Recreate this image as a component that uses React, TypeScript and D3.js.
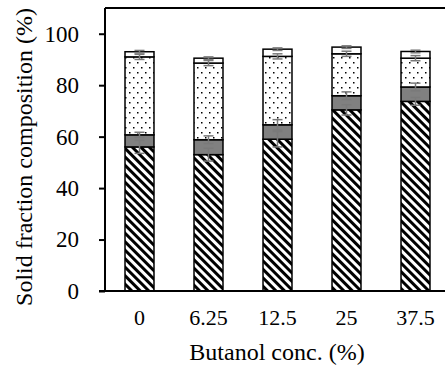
import React, { useEffect, useRef } from "react";
import * as d3 from "d3";

const categories = ["0", "6.25", "12.5", "25", "37.5"];
// stacked segments, bottom to top
const hatched = [56, 53, 59, 70.4, 73.7];
const grey = [4.7, 5.8, 5.6, 5.5, 5.6];
const dotted = [30.3, 29.8, 26.6, 16.3, 11.2];
const white = [2, 1.9, 2.8, 2.6, 2.6];
// error (+/-) at the top of each segment
const hatchedErr = [2.5, 2.5, 3, 2, 1.5];
const greyErr = [1, 1.5, 2, 1.5, 1.5];
const dottedErr = [1, 1, 1, 1, 1];
const whiteErr = [0.5, 0.5, 0.5, 0.5, 0.5];
const yTicks = [0, 20, 40, 60, 80, 100];

const App = () => {
  const svgRef = useRef<SVGSVGElement>(null);

  useEffect(() => {
    const width = 445;
    const height = 366;
    const margin = { top: 8, left: 105, bottom: 75 };
    const font = "'Liberation Serif', 'Times New Roman', serif";

    const svg = d3.select(svgRef.current).attr("width", width).attr("height", height);
    svg.selectAll("*").remove();

    const x = d3
      .scaleBand()
      .domain(categories)
      .range([margin.left, 450])
      .paddingInner(0.58)
      .paddingOuter(0.29);
    const y = d3.scaleLinear().domain([0, 110]).range([height - margin.bottom, margin.top]);

    const defs = svg.append("defs");
    const hatch = defs
      .append("pattern")
      .attr("id", "hatch")
      .attr("patternUnits", "userSpaceOnUse")
      .attr("width", 6)
      .attr("height", 6)
      .attr("patternTransform", "rotate(-45)");
    hatch.append("rect").attr("width", 6).attr("height", 6).attr("fill", "#fff");
    hatch.append("rect").attr("width", 3).attr("height", 6).attr("fill", "#000");

    const dots = defs
      .append("pattern")
      .attr("id", "dots")
      .attr("patternUnits", "userSpaceOnUse")
      .attr("width", 8)
      .attr("height", 10);
    dots.append("rect").attr("width", 8).attr("height", 10).attr("fill", "#fff");
    dots.append("rect").attr("x", 1).attr("y", 2).attr("width", 1.5).attr("height", 1.5).attr("fill", "#000");
    dots.append("rect").attr("x", 5).attr("y", 7).attr("width", 1.5).attr("height", 1.5).attr("fill", "#000");

    const series = [
      { values: hatched, err: hatchedErr, fill: "url(#hatch)" },
      { values: grey, err: greyErr, fill: "#808080" },
      { values: dotted, err: dottedErr, fill: "url(#dots)" },
      { values: white, err: whiteErr, fill: "#fff" },
    ];

    const rows = categories.map((c, i) => {
      const r: Record<string, number | string> = { cat: c };
      series.forEach((s, k) => (r["s" + k] = s.values[i]));
      return r;
    });
    const stack = d3.stack<any>().keys(series.map((_, k) => "s" + k))(rows);

    stack.forEach((layer, k) => {
      svg
        .append("g")
        .selectAll("rect")
        .data(layer)
        .join("rect")
        .attr("x", (d) => x(d.data.cat as string)!)
        .attr("width", x.bandwidth())
        .attr("y", (d) => y(d[1]))
        .attr("height", (d) => y(d[0]) - y(d[1]))
        .attr("fill", series[k].fill)
        .attr("stroke", "#000")
        .attr("stroke-width", 1.5);
    });

    // error bars
    const capW = 5;
    stack.forEach((layer, k) => {
      const g = svg.append("g").attr("stroke", "#7a7a7a").attr("stroke-width", 1.5);
      layer.forEach((d, i) => {
        const cx = x(d.data.cat as string)! + x.bandwidth() / 2;
        const e = series[k].err[i];
        const y1 = y(d[1] + e);
        const y2 = y(d[1] - e);
        g.append("line").attr("x1", cx).attr("x2", cx).attr("y1", y1).attr("y2", y2);
        g.append("line").attr("x1", cx - capW).attr("x2", cx + capW).attr("y1", y1).attr("y2", y1);
        g.append("line").attr("x1", cx - capW).attr("x2", cx + capW).attr("y1", y2).attr("y2", y2);
      });
    });

    // frame
    const frame = svg.append("g").attr("stroke", "#000").attr("stroke-width", 2);
    frame.append("line").attr("x1", margin.left).attr("x2", width).attr("y1", y(110)).attr("y2", y(110));
    frame.append("line").attr("x1", margin.left).attr("x2", margin.left).attr("y1", y(110)).attr("y2", y(0));
    frame.append("line").attr("x1", margin.left - 6).attr("x2", width).attr("y1", y(0)).attr("y2", y(0));

    // y axis
    const yAxis = svg
      .append("g")
      .attr("transform", `translate(${margin.left},0)`)
      .call(d3.axisLeft(y).tickValues(yTicks).tickSize(6).tickPadding(20));
    yAxis.select(".domain").remove();
    yAxis.selectAll(".tick line").attr("stroke", "#000").attr("stroke-width", 2);
    yAxis
      .selectAll("text")
      .attr("font-family", font)
      .attr("font-size", 23)
      .attr("fill", "#000");

    // x axis labels
    const xAxis = svg
      .append("g")
      .attr("transform", `translate(0,${y(0)})`)
      .call(d3.axisBottom(x).tickSize(0).tickPadding(18));
    xAxis.select(".domain").remove();
    xAxis
      .selectAll("text")
      .attr("font-family", font)
      .attr("font-size", 22)
      .attr("fill", "#000");

    svg
      .append("text")
      .attr("x", 277)
      .attr("y", 360)
      .attr("text-anchor", "middle")
      .attr("font-family", font)
      .attr("font-size", 24)
      .text("Butanol conc. (%)");

    svg
      .append("text")
      .attr("transform", "translate(32,157) rotate(-90)")
      .attr("text-anchor", "middle")
      .attr("font-family", font)
      .attr("font-size", 24)
      .text("Solid fraction composition (%)");
  }, []);

  return <svg ref={svgRef} style={{ position: "absolute", left: 0, top: 0 }}></svg>;
};

export default App;
